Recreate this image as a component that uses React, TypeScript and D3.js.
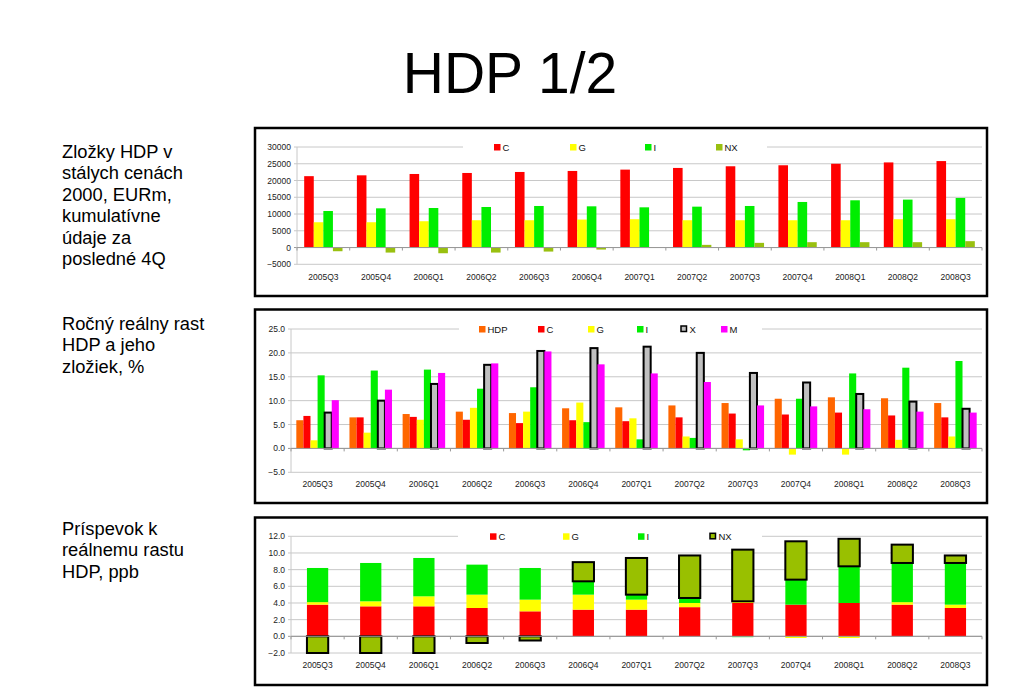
import React from "react";
import * as d3 from "d3";

const categories = ["2005Q3","2005Q4","2006Q1","2006Q2","2006Q3","2006Q4","2007Q1","2007Q2","2007Q3","2007Q4","2008Q1","2008Q2","2008Q3"];

// Chart 1: components of GDP, EURm
const levelC = [21300,21550,21950,22250,22550,22850,23250,23750,24250,24550,25000,25400,25800];
const levelG = [7550,7550,7850,8150,8150,8350,8450,8150,8150,8150,8150,8450,8450];
const levelI = [10900,11700,11800,12100,12400,12300,12000,12200,12400,13600,14100,14300,14800];
const levelNX = [-1100,-1500,-1700,-1500,-1200,-600,100,800,1400,1600,1600,1600,1900];
const levelTicks = [30000,25000,20000,15000,10000,5000,0,-5000];

// Chart 2: annual real growth, %
const growthHDP = [5.9,6.5,7.2,7.7,7.4,8.4,8.6,9.0,9.5,10.4,10.7,10.5,9.5];
const growthC = [6.8,6.5,6.6,6.0,5.3,5.9,5.7,6.5,7.3,7.1,7.5,6.9,6.5];
const growthG = [1.7,3.3,6.0,8.5,7.7,9.6,6.3,2.5,1.9,-1.3,-1.3,1.8,2.5];
const growthI = [15.3,16.3,16.5,12.5,12.8,5.5,1.9,2.2,-0.4,10.4,15.7,16.9,18.3];
const growthX = [7.5,10.0,13.5,17.5,20.4,21.0,21.3,20.0,15.8,13.8,11.4,9.8,8.3];
const growthM = [10.1,12.3,15.8,17.8,20.3,17.6,15.7,13.9,9.0,8.8,8.2,7.7,7.5];
const growthTicks = [25,20,15,10,5,0,-5];

// Chart 3: contribution to real GDP growth, pp
const contribC = [3.8,3.6,3.6,3.4,3.0,3.2,3.2,3.5,4.0,3.8,4.0,3.8,3.4];
const contribG = [0.3,0.6,1.2,1.6,1.4,1.8,1.2,0.5,0.2,-0.2,-0.2,0.3,0.4];
const contribI = [4.1,4.6,4.6,3.6,3.8,1.6,0.6,0.6,-0.1,3.0,4.4,4.7,5.0];
const contribNX = [-2.3,-2.4,-2.5,-0.8,-0.5,2.3,4.4,5.1,6.2,4.6,3.3,2.2,0.9];
const contribTicks = [12,10,8,6,4,2,0,-2];

const titleText = "HDP 1/2";
const sideText1 = ["Zložky HDP v","stálych cenách","2000, EURm,","kumulatívne","údaje za","posledné 4Q"];
const sideText2 = ["Ročný reálny rast","HDP a jeho","zložiek, %"];
const sideText3 = ["Príspevok k","reálnemu rastu","HDP, ppb"];

const FONT = "'Liberation Sans', Arial, Helvetica, sans-serif";

type Series = { name: string; values: number[]; fill: string; stroke?: string };

type PanelProps = {
  box: [number, number, number, number];
  left: number;
  right: number;
  yDomain: [number, number];
  yRange: [number, number];
  ticks: number[];
  fmt: (v: number) => string;
  series: Series[];
  stacked?: boolean;
  legendX: number[];
  legendGap: [number, number];
  labelY: number;
};

function Panel(p: PanelProps) {
  const x = d3.scaleBand<string>().domain(categories).range([p.left, p.right]).padding(0);
  const y = d3.scaleLinear().domain(p.yDomain).range(p.yRange).clamp(true);
  const bw = x.bandwidth();
  const n = p.stacked ? 1 : p.series.length;
  const w = bw / (n + 1.5);
  const y0 = y(0);
  const topY = y(p.yDomain[1]);
  const bars: React.ReactNode[] = [];
  categories.forEach((cat, ci) => {
    const start = (x(cat) as number) + (bw - n * w) / 2;
    let pos = 0;
    let neg = 0;
    p.series.forEach((s, si) => {
      const v = s.values[ci];
      let a: number, b: number, bx: number;
      if (p.stacked) {
        bx = start;
        if (v >= 0) { a = pos; b = pos + v; pos = b; }
        else { a = neg; b = neg + v; neg = b; }
      } else {
        bx = start + si * w;
        a = 0; b = v;
      }
      const ya = y(a), yb = y(b);
      const top = Math.min(ya, yb), h = Math.abs(ya - yb);
      if (h <= 0) return;
      bars.push(
        <rect key={`${ci}-${si}`} x={bx} y={top} width={w} height={h}
          fill={s.fill} stroke={s.stroke || "none"} strokeWidth={s.stroke ? 2 : 0} />
      );
    });
  });
  const [bx0, by0, bx1, by1] = p.box;
  return (
    <g>
      <rect x={bx0} y={by0} width={bx1 - bx0} height={by1 - by0} fill="#fff" stroke="#000" strokeWidth={2.5} />
      {p.ticks.map((t) => (
        <g key={t}>
          <line x1={p.left - 3} x2={p.right} y1={y(t)} y2={y(t)} stroke={t === 0 ? "#999" : "#c8c8c8"} strokeWidth={1} />
          <text x={p.left - 6} y={y(t) + 3} textAnchor="end" fontSize={8.5} fontFamily={FONT} fill="#222">{p.fmt(t)}</text>
        </g>
      ))}
      <line x1={p.left} x2={p.left} y1={topY} y2={y(p.yDomain[0])} stroke="#c8c8c8" />
      {bars}
      <line x1={p.left} x2={p.right} y1={y0} y2={y0} stroke="#999" strokeWidth={1} />
      {categories.map((c) => (
        <line key={"t" + c} x1={x(c) as number} x2={x(c) as number} y1={y0} y2={y0 + 3} stroke="#999" />
      ))}
      <line x1={p.right} x2={p.right} y1={y0} y2={y0 + 3} stroke="#999" />
      {categories.map((c) => (
        <text key={"l" + c} x={(x(c) as number) + bw / 2} y={p.labelY} textAnchor="middle" fontSize={8.5} fontFamily={FONT} fill="#222">{c}</text>
      ))}
      <rect x={p.legendGap[0]} y={topY - 6} width={p.legendGap[1] - p.legendGap[0]} height={12} fill="#fff" />
      {p.series.map((s, i) => (
        <g key={"lg" + s.name}>
          <rect x={p.legendX[i]} y={topY - 3} width={s.stroke ? 5.5 : 6.5} height={s.stroke ? 5.5 : 6.5}
            fill={s.fill} stroke={s.stroke || "none"} strokeWidth={s.stroke ? 1.5 : 0} />
          <text x={p.legendX[i] + 8.5} y={topY + 3.5} fontSize={9.5} fontFamily={FONT} fill="#111">{s.name}</text>
        </g>
      ))}
    </g>
  );
}

export default function App() {
  const f0 = d3.format("d");
  const f1 = d3.format(".1f");
  return (
    <svg width={1024} height={698} style={{ position: "absolute", left: 0, top: 0, background: "#fff" }}>
      <text x={510} y={93} textAnchor="middle" fontSize={57} fontFamily={FONT} fill="#000">{titleText}</text>
      {sideText1.map((t, i) => (
        <text key={"a" + i} x={62} y={158 + i * 21.4} fontSize={18.3} fontFamily={FONT} fill="#000">{t}</text>
      ))}
      {sideText2.map((t, i) => (
        <text key={"b" + i} x={62} y={330 + i * 21.4} fontSize={18.3} fontFamily={FONT} fill="#000">{t}</text>
      ))}
      {sideText3.map((t, i) => (
        <text key={"c" + i} x={62} y={535 + i * 21.4} fontSize={18.3} fontFamily={FONT} fill="#000">{t}</text>
      ))}
      <Panel
        box={[255, 128, 987, 296]}
        left={297} right={982}
        yDomain={[-5000, 30000]} yRange={[264.3, 147]}
        ticks={levelTicks} fmt={f0}
        series={[
          { name: "C", values: levelC, fill: "#ff0000" },
          { name: "G", values: levelG, fill: "#ffff00" },
          { name: "I", values: levelI, fill: "#00ee00" },
          { name: "NX", values: levelNX, fill: "#99c010" },
        ]}
        legendX={[494, 570, 645, 716]}
        legendGap={[463, 767]}
        labelY={279.5}
      />
      <Panel
        box={[255, 309.5, 987, 503]}
        left={291} right={982}
        yDomain={[-5, 25]} yRange={[472.3, 329]}
        ticks={growthTicks} fmt={f1}
        series={[
          { name: "HDP", values: growthHDP, fill: "#ff6600" },
          { name: "C", values: growthC, fill: "#ff0000" },
          { name: "G", values: growthG, fill: "#ffff00" },
          { name: "I", values: growthI, fill: "#00ee00" },
          { name: "X", values: growthX, fill: "#c0c0c0", stroke: "#000" },
          { name: "M", values: growthM, fill: "#ff00ff" },
        ]}
        legendX={[479, 538, 588, 637, 681, 721]}
        legendGap={[459, 762]}
        labelY={487}
      />
      <Panel
        box={[255, 517.5, 987, 685]}
        left={291} right={982}
        yDomain={[-2, 12]} yRange={[653, 536.3]}
        ticks={contribTicks} fmt={f1}
        stacked
        series={[
          { name: "C", values: contribC, fill: "#ff0000" },
          { name: "G", values: contribG, fill: "#ffff00" },
          { name: "I", values: contribI, fill: "#00ee00" },
          { name: "NX", values: contribNX, fill: "#99c000", stroke: "#000" },
        ]}
        legendX={[490, 563, 638, 710]}
        legendGap={[458, 762]}
        labelY={668}
      />
    </svg>
  );
}
